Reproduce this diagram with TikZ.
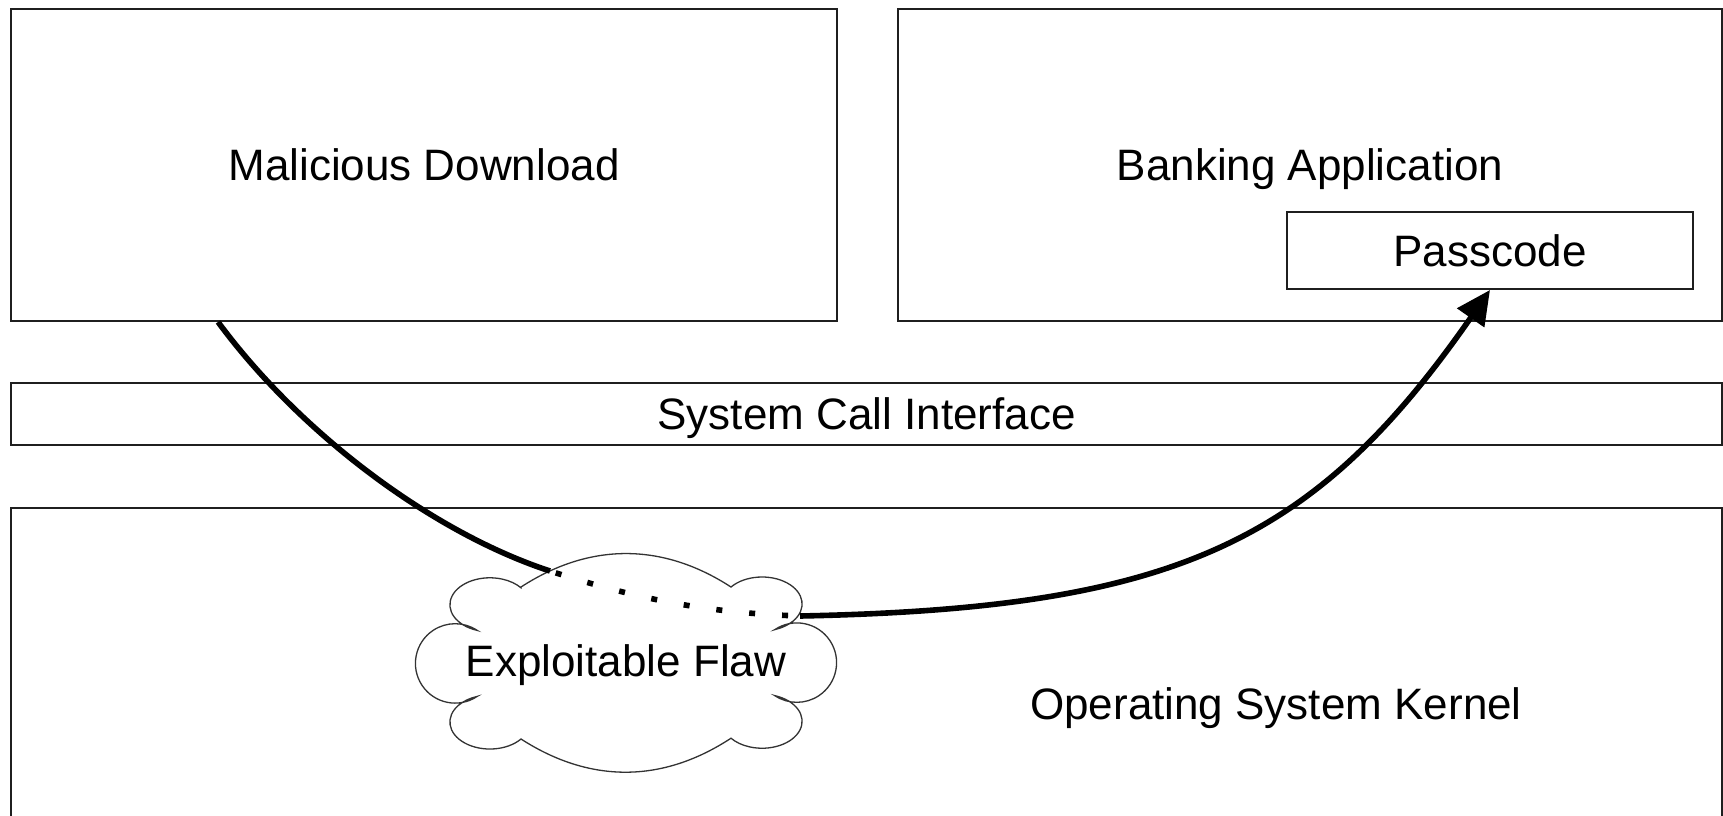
\documentclass[tikz,border=0pt]{standalone}
\usepackage{fontspec}
\setmainfont{Liberation Sans}
\usetikzlibrary{arrows.meta}
\begin{document}
\begin{tikzpicture}[x=1pt, y=-1pt,
  every node/.style={font=\fontsize{44pt}{52pt}\selectfont, text=black},
  frame/.style={draw=black!88, line width=1.9pt, fill=white, rectangle,
    inner sep=0pt, text height=31.5pt, text depth=0pt},
  caption/.style={inner sep=0pt, text height=31.5pt, text depth=0pt},
  puff/.style={draw=black!80, line width=1.3pt, fill=white},
  flow/.style={line width=5.6pt, black},
  leak/.style={line width=5.6pt, black, dash pattern=on 6pt off 27pt, dash phase=27pt}
]
\useasboundingbox (0,0) rectangle (1723,815);
\clip (0,0) rectangle (1723,815);

% user space
\node[frame, minimum width=826pt, minimum height=312pt] (mal) at (424,165) {Malicious Download};
\node[frame, minimum width=824pt, minimum height=312pt] (bank) at (1310,165) {Banking Application};
\node[frame, minimum width=406pt, minimum height=77pt] (pass) at (1490,250.5) {Passcode};

% interface and kernel
\node[frame, minimum width=1711pt, minimum height=62pt] (sci) at (866.5,414) {System Call Interface};
\node[frame, minimum width=1711pt, minimum height=392pt] (kernel) at (866.5,704) {};
\node[caption] (kernellabel) at (1276,704) {Operating System Kernel};

% the flaw inside the kernel
\begin{scope}[shift={(626,663)}]
  \draw[puff] (-105,-76) to[bend left=33] (105,-76)
    arc[start angle=219, end angle=431.4, x radius=40, y radius=27]
    arc[start angle=236.3, end angle=483.7, radius=39.7]
    arc[start angle=288.6, end angle=501, x radius=40, y radius=27]
    to[bend left=33] (-105,76)
    arc[start angle=39, end angle=251.4, x radius=40, y radius=27]
    arc[start angle=56.3, end angle=303.7, radius=39.7]
    arc[start angle=108.6, end angle=321, x radius=40, y radius=27]
    -- cycle;
\end{scope}
\node[caption] (flaw) at (626,661) {Exploitable Flaw};

% attack path through the flaw
\coordinate (src) at ([xshift=208pt]mal.south west);
\coordinate (enter) at (550,571);
\coordinate (leave) at (800,616);
\draw[flow] (src) .. controls (299,432) and (431,532) .. (enter);
\draw[leak] (enter) .. controls (640,600) and (710,613) .. (leave);
\draw[flow, -{Triangle[length=34pt, width=32pt]}] (leave) .. controls (1176,608.5) and (1314,543) .. (pass.south);
\end{tikzpicture}
\end{document}
